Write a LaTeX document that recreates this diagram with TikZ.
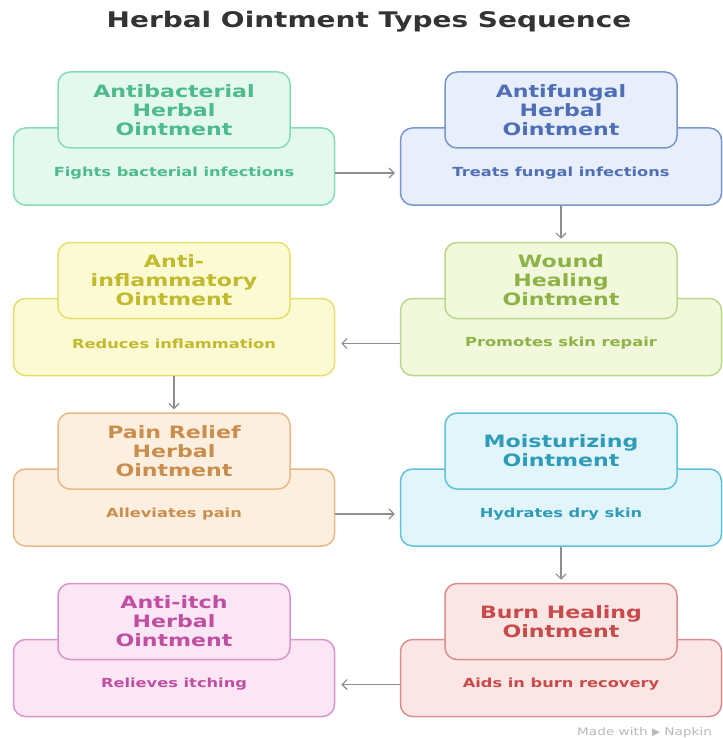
\documentclass[tikz,border=0pt]{standalone}
\usepackage{fontspec}
\setmainfont[FakeStretch=1.3]{DejaVu Sans}
\usetikzlibrary{arrows.meta}
\definecolor{grf}{HTML}{E3F8EF}\definecolor{grb}{HTML}{86DDB5}\definecolor{grt}{HTML}{4DBB8C}
\definecolor{blf}{HTML}{E9EEFB}\definecolor{blb}{HTML}{7896CF}\definecolor{blt}{HTML}{4E6FB5}
\definecolor{yef}{HTML}{FCFAD2}\definecolor{yeb}{HTML}{E6DE6E}\definecolor{yet}{HTML}{C2BA2E}
\definecolor{lif}{HTML}{F1F8DC}\definecolor{lib}{HTML}{B9D98A}\definecolor{lit}{HTML}{8DB347}
\definecolor{orf}{HTML}{FCEFE0}\definecolor{orb}{HTML}{E9BA85}\definecolor{ort}{HTML}{C98E4D}
\definecolor{cyf}{HTML}{E2F5FB}\definecolor{cyb}{HTML}{5EC2DB}\definecolor{cyt}{HTML}{2E9BB8}
\definecolor{pif}{HTML}{FBE6F6}\definecolor{pib}{HTML}{DB94CB}\definecolor{pit}{HTML}{C04FA1}
\definecolor{ref}{HTML}{FBE6E6}\definecolor{reb}{HTML}{DE8C8C}\definecolor{ret}{HTML}{C94A4A}
\definecolor{arrowgray}{HTML}{8E8E8E}
\definecolor{titlegray}{HTML}{333333}
\tikzset{
  basebox/.style={draw, rounded corners=12pt, line width=1.5pt},
  lowbox/.style={basebox, minimum width=321pt, minimum height=77pt},
  topbox/.style={basebox, minimum width=232pt, minimum height=76pt, align=center, inner sep=0pt,
    font=\bfseries\fontsize{17}{19}\selectfont},
  desc/.style={font=\bfseries\fontsize{12.5}{14}\selectfont},
  arr/.style={draw=arrowgray, line width=1.2pt, -{Straight Barb[length=5pt,width=10pt]}},
}
\newcommand{\oitem}[6]{%
  \node[lowbox, draw=#4b, fill=#4f] (b#1) at (#2, #3+166.5) {};
  \node[topbox, draw=#4b, fill=#4f, text=#4t] (t#1) at (#2, #3+110) {#5};
  \node[desc, text=#4t] (d#1) at (#2, #3+173) {#6};
}
\begin{document}
\begin{tikzpicture}[x=1pt,y=-1pt]
\useasboundingbox[fill=white] (0,0) rectangle (722,738);
\node[font=\bfseries\fontsize{21.5}{25}\selectfont, text=titlegray] (title) at (369,22) {Herbal Ointment Types Sequence};
\oitem{1}{174}{0}{gr}{Antibacterial\\Herbal\\Ointment}{Fights bacterial infections}
\oitem{2}{561}{0}{bl}{Antifungal\\Herbal\\Ointment}{Treats fungal infections}
\oitem{3}{561}{170.5}{li}{Wound\\Healing\\Ointment}{Promotes skin repair}
\oitem{4}{174}{170.5}{ye}{Anti-\\inflammatory\\Ointment}{Reduces inflammation}
\oitem{5}{174}{341}{or}{Pain Relief\\Herbal\\Ointment}{Alleviates pain}
\oitem{6}{561}{341}{cy}{Moisturizing\\Ointment}{Hydrates dry skin}
\oitem{7}{561}{511.5}{re}{Burn Healing\\Ointment}{Aids in burn recovery}
\oitem{8}{174}{511.5}{pi}{Anti-itch\\Herbal\\Ointment}{Relieves itching}
\draw[arr, shorten >=5pt] (d1 -| b1.east) -- (d1 -| b2.west);
\draw[arr, shorten >=3pt] (b2.south) -- (t3.north);
\draw[arr, shorten >=6pt] (d3 -| b3.west) -- (d3 -| b4.east);
\draw[arr, shorten >=3pt] (b4.south) -- (t5.north);
\draw[arr, shorten >=5pt] (d5 -| b5.east) -- (d5 -| b6.west);
\draw[arr, shorten >=3pt] (b6.south) -- (t7.north);
\draw[arr, shorten >=6pt] (d7 -| b7.west) -- (d7 -| b8.east);
\node[anchor=west, font=\fontsize{10.5}{12}\selectfont, text=gray!55, inner sep=0pt] (mark) at (577,733) {Made with {\fontspec{DejaVu Sans}▶} Napkin};
\end{tikzpicture}
\end{document}
